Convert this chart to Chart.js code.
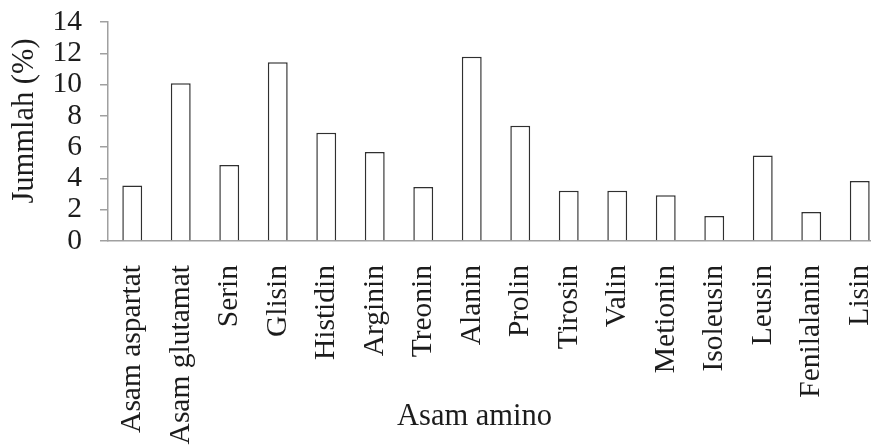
<!DOCTYPE html>
<html>
<head>
<meta charset="utf-8">
<script src="https://cdn.jsdelivr.net/npm/chart.js@4.4.1/dist/chart.umd.min.js"></script>
<style>
    html, body { margin: 0; padding: 0; background: #fff; overflow: hidden; }
    #wrap { width: 890px; height: 446px; }
</style>
</head>
<body>
<div id="wrap"><canvas id="chart" width="890" height="446"></canvas></div>
<script>
// Dados do gráfico
const categories = ['Asam aspartat', 'Asam glutamat', 'Serin', 'Glisin', 'Histidin', 'Arginin',
    'Treonin', 'Alanin', 'Prolin', 'Tirosin', 'Valin', 'Metionin', 'Isoleusin', 'Leusin',
    'Fenilalanin', 'Lisin'];
const values = [3.54, 10.08, 4.86, 11.42, 6.92, 5.69, 3.45, 11.78, 7.37, 3.22, 3.22, 2.92,
    1.60, 5.47, 1.85, 3.84];
const yTicks = [0, 2, 4, 6, 8, 10, 12, 14];
const xTitle = 'Asam amino';
const yTitle = 'Jummlah (%)';

const serif = '"Liberation Serif", "DejaVu Serif", serif';
const textColor = '#1c1c1c';
const axisColor = '#a0a0a0';

// Títulos dos eixos desenhados à mão para acertar a posição
const axisTitles = {
    id: 'axisTitles',
    afterDraw(chart) {
        const ctx = chart.ctx;
        ctx.save();
        ctx.fillStyle = textColor;
        ctx.font = '30.5px ' + serif;
        ctx.textBaseline = 'alphabetic';
        ctx.textAlign = 'left';
        ctx.fillText(xTitle, 397, 425);
        ctx.translate(33, 121);
        ctx.rotate(-Math.PI / 2);
        ctx.textAlign = 'center';
        ctx.fillText(yTitle, 0, 0);
        ctx.restore();
    }
};

new Chart(document.getElementById('chart'), {
    type: 'bar',
    data: {
        labels: categories,
        datasets: [{
            data: values,
            backgroundColor: '#ffffff',
            borderColor: '#303030',
            borderWidth: 1.5,
            barPercentage: 0.41,
            categoryPercentage: 1
        }]
    },
    options: {
        responsive: false,
        animation: false,
        devicePixelRatio: 1,
        layout: { padding: { top: 22, right: 6, left: 0, bottom: 0 } },
        plugins: {
            legend: { display: false },
            tooltip: { enabled: false }
        },
        scales: {
            x: {
                grid: { display: false, drawTicks: false },
                border: { display: true, color: axisColor, width: 1.5 },
                ticks: {
                    minRotation: 90,
                    maxRotation: 90,
                    autoSkip: false,
                    padding: 24,
                    color: textColor,
                    font: { family: serif, size: 29.5 }
                },
                afterFit: s => { s.height = 205; s.paddingLeft = 0; s.paddingRight = 0; }
            },
            y: {
                min: 0,
                max: 14,
                afterBuildTicks: s => { s.ticks = yTicks.map(v => ({ value: v })); },
                grid: { drawOnChartArea: false, drawTicks: true, tickLength: 8, color: axisColor, lineWidth: 1.5 },
                border: { display: true, color: axisColor, width: 1.5 },
                ticks: {
                    autoSkip: false,
                    padding: 18,
                    color: textColor,
                    font: { family: serif, size: 29.5 }
                },
                afterFit: s => { s.width = 108; s.paddingTop = 0; s.paddingBottom = 0; }
            }
        }
    },
    plugins: [axisTitles]
});
</script>
</body>
</html>
